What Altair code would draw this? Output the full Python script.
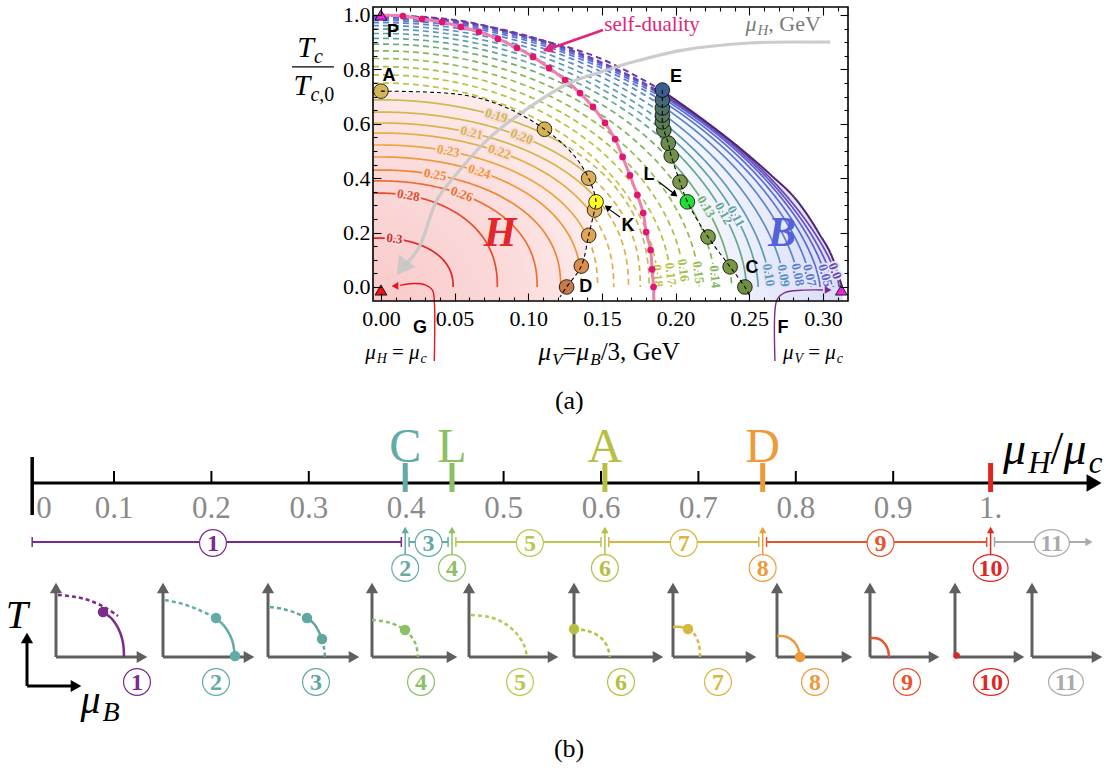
import altair as alt
import numpy as np
import pandas as pd

SERIF = "Liberation Serif"
SANS = "Liberation Sans"

# ======================================================================
#  Values
# ======================================================================
# ---- panel (a): contour levels, T/Tc0 intercept (mu_V = 0), mu_V intercept (T = 0)
H_LEVELS = ["0.3", "0.28", "0.26", "0.25", "0.24", "0.23", "0.22", "0.21", "0.20", "0.19"]
H_TOP = [0.18, 0.345, 0.39, 0.43, 0.478, 0.522, 0.566, 0.603, 0.643, 0.688]
H_RIGHT = [0.049, 0.079, 0.106, 0.122, 0.136, 0.147, 0.158, 0.168, 0.176, 0.182]
H_COLORS = ["#e3262b", "#e84a2e", "#ec6e32", "#ee8636", "#ef983a",
            "#eaa63f", "#e2ae44", "#dab348", "#d2b64b", "#cbb84e"]

O_LEVELS = ["0.18", "0.17", "0.16", "0.15", "0.14", "0.13", "0.12", "0.11",
            "0.10", "0.09", "0.08", "0.07", "0.06", "0.05", "0.04", "0.03"]
O_TOP = [0.75, 0.78, 0.81, 0.84, 0.868, 0.893, 0.914, 0.932,
         0.948, 0.961, 0.972, 0.98, 0.986, 0.991, 0.995, 0.998]
O_RIGHT = [0.188, 0.197, 0.206, 0.216, 0.227, 0.238, 0.248, 0.256,
           0.264, 0.274, 0.284, 0.292, 0.298, 0.303, 0.307, 0.311]
O_COLORS = ["#c5c03d", "#b6c33f", "#a4c145", "#92bd4d", "#80b75a", "#6fae6e", "#62a892", "#5da2a8",
            "#5b9ab8", "#5a8fc5", "#5a84cf", "#5a78d5", "#5b6cd7", "#5e60d3", "#6452c6", "#6b44b4"]

# outer boundary (dashed part up to E, solid part E -> F)
BD_X = [0.0, 0.05, 0.096, 0.149, 0.19]
BD_Y = [1.0, 0.982, 0.925, 0.84, 0.725]
BS_X = [0.19, 0.22, 0.246, 0.265, 0.282, 0.297, 0.307, 0.313]
BS_Y = [0.725, 0.61, 0.50, 0.41, 0.32, 0.20, 0.10, 0.0]

# first-order line A -> D and E -> C (black dashed)
AD_X = [0.0, 0.056, 0.085, 0.111, 0.13, 0.141, 0.146, 0.145, 0.141, 0.136, 0.126, 0.1215]
AD_Y = [0.72, 0.706, 0.66, 0.58, 0.49, 0.40, 0.313, 0.283, 0.19, 0.077, 0.0, -0.037]
EC_X = [0.191, 0.191, 0.191, 0.191, 0.191, 0.192, 0.195, 0.197, 0.203, 0.208, 0.222, 0.237, 0.247, 0.2505]
EC_Y = [0.724, 0.688, 0.658, 0.632, 0.607, 0.577, 0.529, 0.482, 0.386, 0.313, 0.184, 0.074, 0.0, -0.035]

# circles on the A-D line and the E-C line
ADC_X = [0.0, 0.111, 0.141, 0.146, 0.145, 0.141, 0.136, 0.126]
ADC_Y = [0.72, 0.58, 0.40, 0.313, 0.283, 0.19, 0.077, 0.0]
ADC_COL = ["#d3b556", "#d6b152", "#dbae5a", "#ffff22", "#e0ae5c", "#e0a552", "#db8d4a", "#c97a4a"]
ECC_X = EC_X[:13]
ECC_Y = EC_Y[:13]
ECC_COL = ["#3b5e8e", "#446876", "#4d7068", "#55785e", "#5b7f55", "#61854e", "#6a8c4b",
           "#72924a", "#7a9848", "#22dd33", "#7b9a45", "#779843", "#6f9040"]

# self-duality line dots
SD_X = [0.0149, 0.0278, 0.0414, 0.0543, 0.0665, 0.0794, 0.0923, 0.1032, 0.1141, 0.125, 0.1351,
        0.1439, 0.1521, 0.1589, 0.164, 0.169, 0.174, 0.178, 0.180, 0.183, 0.184, 0.185]
SD_Y = [0.996, 0.985, 0.974, 0.956, 0.938, 0.912, 0.879, 0.846, 0.805, 0.761, 0.713,
        0.662, 0.603, 0.544, 0.478, 0.41, 0.338, 0.272, 0.202, 0.136, 0.065, 0.0]

# grey mu_H arrow
GR_X = [0.305, 0.2505, 0.205, 0.171, 0.149, 0.128, 0.096, 0.072, 0.052, 0.038, 0.026, 0.0155]
GR_Y = [0.90, 0.897, 0.871, 0.827, 0.79, 0.75, 0.643, 0.54, 0.42, 0.32, 0.147, 0.075]

# contour labels: text, curve, position
CL_TEXT = ["0.19", "0.20", "0.21", "0.22", "0.23", "0.24", "0.25", "0.26", "0.28", "0.3",
           "0.18", "0.17", "0.16", "0.15", "0.14", "0.13", "0.12", "0.11",
           "0.10", "0.09", "0.08", "0.07", "0.05", "0.0"]
CL_LEVEL = CL_TEXT[:-1] + ["0.03"]
CL_X = [0.079, 0.097, 0.063, 0.081, 0.047, 0.069, 0.038, 0.056, 0.019, 0.009,
        0.187, 0.197, 0.206, 0.216, 0.227, 0.220, 0.231, 0.242,
        0.262, 0.273, 0.283, 0.2925, 0.301, 0.310]
CL_Y = [0.655, 0.585, 0.59, 0.515, 0.52, 0.45, 0.45, 0.36, 0.34, 0.18,
        0.04, 0.045, 0.06, 0.05, 0.04, 0.29, 0.27, 0.265,
        0.045, 0.045, 0.045, 0.045, 0.045, 0.06]

POINT_LABELS = ["P", "A", "E", "L", "K", "D", "C", "G", "F"]
POINT_LABEL_X = [0.0081, 0.0054, 0.2002, 0.182, 0.1677, 0.139, 0.2518, 0.0265, 0.2729]
POINT_LABEL_Y = [0.9375, 0.776, 0.772, 0.412, 0.224, 0.0, 0.07, -0.150, -0.150]

X_MAJOR = [0.0, 0.05, 0.10, 0.15, 0.20, 0.25, 0.30]
X_MINOR = [round(0.01 * k, 2) for k in range(1, 32) if k % 5 != 0]
Y_MAJOR = [0.0, 0.2, 0.4, 0.6, 0.8, 1.0]
Y_MINOR = [round(0.05 * k, 2) for k in range(1, 20) if k % 4 != 0]

# ---- panel (b): mu_H / mu_c number line
NL_TICKS = [0.1, 0.2, 0.3, 0.4, 0.5, 0.6, 0.7, 0.8, 0.9]
NL_LABELS = ["0.1", "0.2", "0.3", "0.4", "0.5", "0.6", "0.7", "0.8", "0.9", "1."]
NL_LABEL_V = [0.1, 0.2, 0.3, 0.4, 0.5, 0.6, 0.7, 0.8, 0.9, 1.0]
MARK_LETTERS = ["C", "L", "A", "D"]
MARK_V = [0.399, 0.447, 0.604, 0.766]
MARK_COLORS = ["#62aba6", "#8dc063", "#b6bf3f", "#ee9a3a"]
CRIT_V = 1.0
SEG_FROM = [0.016, 0.403, 0.451, 0.608, 0.770, 1.004]
SEG_TO = [0.395, 0.443, 0.600, 0.762, 0.996, 1.098]
SEG_MID = [0.2016, 0.423, 0.527, 0.685, 0.887, 1.063]
SEG_NUM = ["1", "3", "5", "7", "9", "11"]
SEG_COLORS = ["#7b2a8e", "#62aba6", "#b5c94f", "#d8b73e", "#e8542e", "#aaaaaa"]
PT_V = [0.399, 0.447, 0.604, 0.766, 1.0]
PT_NUM = ["2", "4", "6", "8", "10"]
PT_COLORS = ["#62aba6", "#8dc063", "#b6bf3f", "#ee9a3a", "#e1251f"]

# ---- panel (b): schematic phase diagrams (u right, v up, in px of the sketch)
ICON_NUM = ["1", "2", "3", "4", "5", "6", "7", "8", "9", "10", "11"]
ICON_COLORS = ["#7b2a8e", "#62aba6", "#5fa89f", "#8dc063", "#b5c94f", "#b6bf3f",
               "#d8b73e", "#ee9a3a", "#e8542e", "#e1251f", "#aaaaaa"]
ICON_CURVES = [
    [("dashed", [(2, 62), (20, 60), (35, 56), (50, 49), (62, 41)]),
     ("solid", [(47, 45), (56, 38), (63, 27), (67, 14), (68, 0)])],
    [("dashed", [(2, 57), (20, 53), (36, 47), (53, 39)]),
     ("solid", [(53, 39), (62, 30), (69, 17), (72, 1)])],
    [("dashed", [(2, 50), (15, 48), (28, 44), (39, 39)]),
     ("solid", [(39, 39), (47, 32), (54, 18)]),
     ("dashed", [(54, 18), (56, 9), (57, 0)])],
    [("dashed", [(0, 37), (15, 35), (28, 30), (38, 22), (44, 12), (46, 0)])],
    [("dashed", [(2, 42), (20, 40), (35, 34), (47, 24), (55, 12), (58, 0)])],
    [("dashed", [(0, 28), (14, 26), (26, 20), (33, 11), (36, 0)])],
    [("solid", [(0, 30), (8, 30), (15, 28)]),
     ("dashed", [(15, 28), (22, 22), (26, 12), (27, 0)])],
    [("solid", [(0, 21), (10, 20), (18, 14), (22, 6), (23, 0)])],
    [("solid", [(0, 19), (9, 18), (15, 13), (18, 7), (19, 0)])],
    [("solid", [(0, 4), (3, 3), (4, 0)])],
    [],
]
ICON_DOTS = [[(47, 45)], [(53, 39), (72, 1)], [(39, 39), (54, 18)], [(33, 27)], [],
             [(0, 28)], [(15, 28)], [(23, 0)], [], [(1, 1)], []]

# ---- layout of panel (b) (pixels)
ICON_X0 = [56, 163, 268, 372, 469, 574, 673, 777, 870, 955, 1032]
ICON_LEN = [92, 92, 92, 86, 90, 90, 84, 76, 70, 70, 71]
ICON_LAB_DX = [81, 53, 48, 49, 51, 47, 45, 38, 37, 36, 34]
ICON_BASE, ICON_TOP, ICON_LAB_Y = 657, 582, 682
LINE_Y, SEG_Y, BELOW_Y = 483, 542, 568

# ======================================================================
#  scales
# ======================================================================
XA_DOM, XA_RNG = [-0.0054, 0.317], [373, 848]
YA_DOM, YA_RNG = [-0.0515, 1.0294], [301, 7]
XB_DOM, XB_RNG = [0.0, 1.0], [16.6, 990.6]
PPX = (XA_RNG[1] - XA_RNG[0]) / (XA_DOM[1] - XA_DOM[0])
PPY = (YA_RNG[0] - YA_RNG[1]) / (YA_DOM[1] - YA_DOM[0])


def sc(dom, rng):
    return alt.Scale(domain=dom, range=rng, nice=False, zero=False)


def ea(xf="x", yf="y"):
    return dict(x=alt.X(f"{xf}:Q", scale=sc(XA_DOM, XA_RNG), axis=None),
                y=alt.Y(f"{yf}:Q", scale=sc(YA_DOM, YA_RNG), axis=None))


def ep(xf="x", yf="y"):
    return dict(x=alt.X(f"{xf}:Q", scale=sc([0, 1113], [0, 1113]), axis=None),
                y=alt.Y(f"{yf}:Q", scale=sc([0, 771], [0, 771]), axis=None))


def xb(f="v"):
    return alt.X(f"{f}:Q", scale=sc(XB_DOM, XB_RNG), axis=None)


DASH_A = alt.StrokeDash("dash:N", scale=alt.Scale(domain=["solid", "dashed"], range=[[1, 0], [6, 4]]), legend=None)
DASH_P = alt.StrokeDash("dash:N", scale=alt.Scale(domain=["solid", "dashed"], range=[[1, 0], [4, 3]]), legend=None)

EM = {"μ": 0.55, "T": 0.61, "c": 0.44, ",": 0.25, ".": 0.25, " ": 0.25, "=": 0.56, "/": 0.28,
      "G": 0.72, "e": 0.44, "V": 0.72, "H": 0.72, "B": 0.67, "(": 0.33, ")": 0.33}
EM_IT = {"T": 0.56, "V": 0.61, "B": 0.61, "H": 0.72, "c": 0.44, "μ": 0.55}


def tw(t, s, it):
    return s * sum((EM_IT[ch] if (it and ch in EM_IT) else EM.get(ch, 0.5)) for ch in t)


def rich(parts, x, y, sx, sy, color, anchor="center"):
    """parts: (text, size, italic, dy); leading/trailing blanks become gaps."""
    ws = [tw(t, s, it) for t, s, it, _ in parts]
    cur = -sum(ws) / 2 if anchor == "center" else 0.0
    out = []
    for (t, s, it, dy), w in zip(parts, ws):
        lead = len(t) - len(t.lstrip(" "))
        core = t.strip(" ")
        if core:
            out.append(dict(x=x + (cur + lead * 0.25 * s) * sx, y=y + dy * sy, t=core, s=s, c=color, it=it))
        cur += w
    return out


def text_layers(rows, enc):
    df = pd.DataFrame(rows)
    out = []
    for it in (False, True):
        sub = df[df["it"] == it].drop(columns="it")
        if len(sub) == 0:
            continue
        out.append(alt.Chart(sub).mark_text(
            font=SERIF, fontStyle="italic" if it else "normal", align="left", baseline="alphabetic"
        ).encode(**enc, text="t:N", size=alt.Size("s:Q", scale=None), color=alt.Color("c:N", scale=None)))
    return out


def xy_df(xs, ys, **extra):
    d = pd.DataFrame({"x": xs, "y": ys, "i": list(range(len(xs)))})
    for k, v in extra.items():
        d[k] = v
    return d


# ======================================================================
#  panel (a)
# ======================================================================
A = []
x0 = XA_DOM[0]

# background regions
blue_grad = alt.LinearGradient(gradient="linear", x1=0, x2=1, y1=0, y2=0, stops=[
    alt.GradientStop(offset=0.55, color="#ffffff"), alt.GradientStop(offset=0.8, color="#eceefb"),
    alt.GradientStop(offset=1.0, color="#d8dcf7")])
blue_df = pd.DataFrame({"y": [YA_DOM[0]] + BS_Y[::-1], "x": [0.3135] + BS_X[::-1]})
blue_df["x0"] = x0
A.append(alt.Chart(blue_df).mark_area(orient="horizontal", interpolate="monotone", color=blue_grad)
         .encode(**ea(), x2=alt.X2("x0:Q")))
white_df = pd.DataFrame({"y": [YA_DOM[0]] + EC_Y[::-1], "x": [0.2515] + EC_X[::-1]})
white_df["x0"] = x0
A.append(alt.Chart(white_df).mark_area(orient="horizontal", interpolate="monotone", color="white")
         .encode(**ea(), x2=alt.X2("x0:Q")))
pink_grad = alt.RadialGradient(gradient="radial", x1=0, y1=1, r1=0, x2=0, y2=1, r2=1.05, stops=[
    alt.GradientStop(offset=0.0, color="#f9c9c9"), alt.GradientStop(offset=0.6, color="#fbdada"),
    alt.GradientStop(offset=1.0, color="#fdecec")])
pink_df = pd.DataFrame({"y": [YA_DOM[0]] + AD_Y[::-1], "x": [0.1195] + AD_X[::-1]})
pink_df["x0"] = x0
A.append(alt.Chart(pink_df).mark_area(orient="horizontal", interpolate="monotone", color=pink_grad)
         .encode(**ea(), x2=alt.X2("x0:Q")))

# contours
AD_YA, AD_XA = np.array(AD_Y[::-1]), np.array(AD_X[::-1])
EC_YA, EC_XA = np.array(EC_Y[::-1]), np.array(EC_X[::-1])


def arc(a, b, q, n=160):
    t = np.linspace(0.0, np.pi / 2, n)
    x = np.concatenate([[x0], a * np.sin(t)])
    y = np.concatenate([[b], b * np.cos(t) ** (2.0 / q)])
    return x, y


crow = []
curves = {}
colors_by_level = {}


def add_curve(level, x, y, solid, color):
    curves[level] = (x, y)
    colors_by_level[level] = color
    k, start, n = 0, 0, len(x)
    for i in range(1, n + 1):
        if i == n or solid[i] != solid[start]:
            for j in range(start, min(i + 1, n)):
                crow.append(dict(x=float(x[j]), y=float(y[j]), seg=f"{level}_{k}", i=j, c=color,
                                 dash="solid" if solid[start] else "dashed"))
            k += 1
            start = i


for lev, b, a, col in zip(H_LEVELS, H_TOP, H_RIGHT, H_COLORS):
    x, y = arc(a, b, 2.3)
    add_curve(lev, x, y, (y <= 0.72) & (x <= np.interp(y, AD_YA, AD_XA) + 1e-9), col)
for lev, b, a, col, q in zip(O_LEVELS, O_TOP, O_RIGHT, O_COLORS, np.linspace(1.95, 1.40, len(O_LEVELS))):
    x, y = arc(a, b, q)
    add_curve(lev, x, y, (y <= 0.724) & (x >= np.interp(y, EC_YA, EC_XA) - 1e-9), col)

A.append(alt.Chart(pd.DataFrame(crow)).mark_line(strokeWidth=1.7).encode(
    **ea(), detail="seg:N", order="i:Q", color=alt.Color("c:N", scale=None), strokeDash=DASH_A))

# outer boundary
bd = pd.concat([xy_df(BD_X, BD_Y, seg="b0", dash="dashed", c="#6b3a9a"),
                xy_df(BS_X, BS_Y, seg="b1", dash="solid", c="#4e2570")])
A.append(alt.Chart(bd).mark_line(strokeWidth=2, interpolate="monotone").encode(
    **ea(), detail="seg:N", order="i:Q", color=alt.Color("c:N", scale=None), strokeDash=DASH_A))

# contour labels (placed on their curve, rotated along it)
lab_rows = []
for t, lev, lx, ly in zip(CL_TEXT, CL_LEVEL, CL_X, CL_Y):
    cx, cy = curves[lev]
    d = ((cx - lx) * PPX) ** 2 + ((cy - ly) * PPY) ** 2
    j = int(np.clip(np.argmin(d), 1, len(cx) - 2))
    ang = np.degrees(np.arctan2(-(cy[j + 1] - cy[j - 1]) * PPY, (cx[j + 1] - cx[j - 1]) * PPX))
    if ang > 90:
        ang -= 180
    if ang <= -90:
        ang += 180
    if lev in H_LEVELS:
        halo = "#fbdcdc"
    elif lev in ("0.18", "0.17", "0.16", "0.15", "0.14"):
        halo = "#ffffff"
    elif lev in ("0.13", "0.12", "0.11"):
        halo = "#f2f3fd"
    else:
        halo = "#e3e6f9"
    lab_rows.append(dict(x=float(cx[j]), y=float(cy[j]), t=t, ang=float(ang % 360),
                         c=colors_by_level[lev], h=halo))
lab_df = pd.DataFrame(lab_rows)
A.append(alt.Chart(lab_df).mark_text(font=SERIF, fontWeight="bold", fontSize=13, strokeWidth=4,
                                     strokeJoin="round", baseline="middle").encode(
    **ea(), text="t:N", angle=alt.Angle("ang:Q", scale=None),
    color=alt.Color("h:N", scale=None), stroke=alt.Stroke("h:N", scale=None)))
A.append(alt.Chart(lab_df).mark_text(font=SERIF, fontWeight="bold", fontSize=13, baseline="middle").encode(
    **ea(), text="t:N", angle=alt.Angle("ang:Q", scale=None), color=alt.Color("c:N", scale=None)))

# self-duality line
sd_line = xy_df([0.0] + SD_X + [0.1852], [1.0] + SD_Y + [-0.05])
A.append(alt.Chart(sd_line).mark_line(color="#ee7fb0", strokeWidth=3, interpolate="catmull-rom")
         .encode(**ea(), order="i:Q"))
A.append(alt.Chart(xy_df(SD_X, SD_Y)).mark_circle(color="#e3166f", size=45, opacity=1).encode(**ea()))

# grey mu_H arrow
A.append(alt.Chart(xy_df(GR_X, GR_Y)).mark_line(color="#c6c6c6", strokeWidth=3.2, opacity=0.9,
                                                 interpolate="catmull-rom")
         .encode(**ea(), order="i:Q"))
A.append(alt.Chart(pd.DataFrame({"x": [0.0143], "y": [0.07], "ang": [216.6]}))
         .mark_point(shape="triangle-up", filled=True, size=420, color="#c6c6c6", opacity=0.9)
         .encode(**ea(), angle=alt.Angle("ang:Q", scale=None)))

# circles on the transition lines (lower ones first)
circ = pd.concat([xy_df(ADC_X[::-1], ADC_Y[::-1], f=ADC_COL[::-1]),
                  xy_df(ECC_X[::-1], ECC_Y[::-1], f=ECC_COL[::-1])])
A.append(alt.Chart(circ).mark_circle(size=215, opacity=1, stroke="black", strokeWidth=0.8)
         .encode(**ea(), fill=alt.Fill("f:N", scale=None)))
for xs, ys in ((AD_X, AD_Y), (EC_X, EC_Y)):
    A.append(alt.Chart(xy_df(xs, ys)).mark_line(color="black", strokeWidth=1.1, strokeDash=[4, 3],
                                                interpolate="catmull-rom").encode(**ea(), order="i:Q"))

# end-point triangles P, G, F
tri = pd.DataFrame({"x": [0.0, 0.0, 0.3125], "y": [1.0, -0.011, -0.011],
                    "f": ["#e42ad8", "#e8141e", "#e42ad8"]})
A.append(alt.Chart(tri).mark_point(shape="triangle-up", filled=True, size=140, opacity=1,
                                   stroke="black", strokeWidth=0.8)
         .encode(**ea(), fill=alt.Fill("f:N", scale=None)))

# annotation arrows
arrows = [
    ([0.1507, 0.1140], [0.9449, 0.875], "#e2257a", 2.6, (0.1131, 0.874, 249.6, 120)),
    ([0.1887, 0.1990], [0.386, 0.343], "black", 1.2, (0.1995, 0.340, 127.8, 55)),
    ([0.1622, 0.1540], [0.257, 0.289], "black", 1.2, (0.1536, 0.2926, 306.9, 55)),
]
heads = []
for xs, ys, col, w, h in arrows:
    A.append(alt.Chart(xy_df(xs, ys)).mark_line(color=col, strokeWidth=w).encode(**ea(), order="i:Q"))
    heads.append(dict(x=h[0], y=h[1], ang=h[2], s=h[3], c=col))
g_path = xy_df([0.0362, 0.0362, 0.0350, 0.030, 0.022, 0.013], [-0.272, -0.05, -0.012, 0.008, 0.013, 0.006])
f_path = xy_df([0.2674, 0.2674, 0.2690, 0.2745, 0.285, 0.300], [-0.272, -0.09, -0.045, -0.02, -0.012, -0.011])
A.append(alt.Chart(g_path).mark_line(color="#e8141e", strokeWidth=1.4, interpolate="catmull-rom")
         .encode(**ea(), order="i:Q"))
A.append(alt.Chart(f_path).mark_line(color="#7b2a8e", strokeWidth=1.4, interpolate="catmull-rom")
         .encode(**ea(), order="i:Q"))
heads.append(dict(x=0.0095, y=0.004, ang=270.0, s=60, c="#e8141e"))
heads.append(dict(x=0.3035, y=-0.011, ang=90.0, s=60, c="#7b2a8e"))
A.append(alt.Chart(pd.DataFrame(heads)).mark_point(shape="triangle-up", filled=True, opacity=1)
         .encode(**ea(), angle=alt.Angle("ang:Q", scale=None), size=alt.Size("s:Q", scale=None),
                 color=alt.Color("c:N", scale=None)))

# frame
A.append(alt.Chart(pd.DataFrame({"x": [XA_DOM[0]], "x2": [XA_DOM[1]], "y": [YA_DOM[0]], "y2": [YA_DOM[1]]}))
         .mark_rect(fillOpacity=0, stroke="black", strokeWidth=1.6)
         .encode(**ea(), x2=alt.X2("x2:Q"), y2=alt.Y2("y2:Q")))

# letters
A.append(alt.Chart(pd.DataFrame({"x": POINT_LABEL_X, "y": POINT_LABEL_Y, "t": POINT_LABELS}))
         .mark_text(font=SANS, fontWeight="bold", fontSize=18, baseline="middle", color="black")
         .encode(**ea(), text="t:N"))
A.append(alt.Chart(pd.DataFrame({"x": [0.0808, 0.2722], "y": [0.20, 0.197], "t": ["H", "B"],
                                 "c": ["#e3262b", "#5561d6"]}))
         .mark_text(font=SERIF, fontStyle="italic", fontWeight="bold", fontSize=42, baseline="middle")
         .encode(**ea(), text="t:N", color=alt.Color("c:N", scale=None)))
A.append(alt.Chart(pd.DataFrame({"x": [0.184], "y": [0.941], "t": ["self-duality"]}))
         .mark_text(font=SERIF, fontSize=21, color="#e2257a", baseline="alphabetic")
         .encode(**ea(), text="t:N"))
A.append(alt.Chart(pd.DataFrame({"x": [-0.0604], "x2": [-0.0319], "y": [0.809]}))
         .mark_rule(color="black", strokeWidth=1.3).encode(**ea(), x2=alt.X2("x2:Q")))

sxA, syA = 1.0 / PPX, -1.0 / PPY
rich_a = []
rich_a += rich([("T", 30, True, 0), ("c", 20, True, 6)], -0.0482, 0.8456, sxA, syA, "black")
rich_a += rich([("T", 30, True, 0), ("c", 20, True, 6), (",0", 20, False, 6)], -0.0455, 0.706, sxA, syA, "black")
rich_a += rich([("μ", 25, True, 0), ("V", 17, True, 5), ("=", 25, False, 0), ("μ", 25, True, 0),
                ("B", 17, True, 5), ("/3,", 25, False, 0), (" GeV", 25, False, 0)],
               0.1548, -0.268, sxA, syA, "black")
rich_a += rich([("μ", 21, True, 0), ("H", 14, True, 4), (" = ", 21, False, 0), ("μ", 21, True, 0),
                ("c", 14, True, 4)], 0.0102, -0.264, sxA, syA, "black")
rich_a += rich([("μ", 21, True, 0), ("V", 14, True, 4), (" = ", 21, False, 0), ("μ", 21, True, 0),
                ("c", 14, True, 4)], 0.2932, -0.264, sxA, syA, "black")
rich_a += rich([("μ", 22, True, 0), ("H", 15, True, 4), (",", 22, False, 0), (" GeV", 22, False, 0)],
               0.2729, 0.941, sxA, syA, "#7a7a7a")
A += text_layers(rich_a, ea())

group_a = alt.layer(*A)

# ---- frame ticks (library axes, placed on the frame)
AXC = dict(grid=False, domain=False, title=None, tickColor="black", tickWidth=1.1, labelFont=SERIF,
           labelColor="black", labelFlush=False, labelOverlap=False, zindex=1)


def axis_layer(xaxis, yaxis):
    return alt.Chart(pd.DataFrame({"x": [0.1], "y": [0.5]})).mark_point(opacity=0).encode(
        x=alt.X("x:Q", scale=sc(XA_DOM, XA_RNG), axis=xaxis),
        y=alt.Y("y:Q", scale=sc(YA_DOM, YA_RNG), axis=yaxis))


ax_layers = [
    axis_layer(alt.Axis(orient="bottom", offset=293 - 771, values=X_MAJOR, format=".2f", tickSize=8,
                        labelFontSize=22, labelPadding=7, **AXC),
               alt.Axis(orient="left", offset=-381, values=Y_MAJOR, format=".1f", tickSize=8,
                        labelFontSize=22, labelPadding=3, **AXC)),
    axis_layer(alt.Axis(orient="bottom", offset=297 - 771, values=X_MINOR, tickSize=4, labels=False, **AXC),
               alt.Axis(orient="left", offset=-377, values=Y_MINOR, tickSize=4, labels=False, **AXC)),
    axis_layer(alt.Axis(orient="top", offset=-15, values=X_MAJOR, tickSize=8, labels=False, **AXC),
               alt.Axis(orient="right", offset=840 - 1113, values=Y_MAJOR, tickSize=8, labels=False, **AXC)),
    axis_layer(alt.Axis(orient="top", offset=-11, values=X_MINOR, tickSize=4, labels=False, **AXC),
               alt.Axis(orient="right", offset=844 - 1113, values=Y_MINOR, tickSize=4, labels=False, **AXC)),
]

# ======================================================================
#  panel (b): number line
# ======================================================================
B = []
ELL = "M-1.3,0A1.3,1,0,1,1,1.3,0A1.3,1,0,1,1,-1.3,0Z"
B.append(alt.Chart(pd.DataFrame({"v": [0.016], "v2": [1.10]})).mark_rule(color="black", strokeWidth=3)
         .encode(x=xb(), x2=alt.X2("v2:Q"), y=alt.value(LINE_Y)))
B.append(alt.Chart(pd.DataFrame({"v": [1.1062]})).mark_point(shape="triangle-right", filled=True, size=300,
                                                             color="black", opacity=1)
         .encode(x=xb(), y=alt.value(LINE_Y)))
B.append(alt.Chart(pd.DataFrame({"v": [0.016]})).mark_rule(color="black", strokeWidth=3.5)
         .encode(x=xb(), y=alt.value(457), y2=alt.value(515)))
B.append(alt.Chart(pd.DataFrame({"v": NL_TICKS})).mark_rule(color="black", strokeWidth=2)
         .encode(x=xb(), y=alt.value(471), y2=alt.value(LINE_Y)))
B.append(alt.Chart(pd.DataFrame({"v": NL_LABEL_V, "t": NL_LABELS})).mark_text(
    font=SERIF, fontSize=31, color="#8a8a8a", baseline="alphabetic").encode(x=xb(), y=alt.value(518), text="t:N"))
B.append(alt.Chart(pd.DataFrame({"v": [0.016], "t": ["0"]})).mark_text(
    font=SERIF, fontSize=31, color="#8a8a8a", baseline="alphabetic", align="left", dx=4)
    .encode(x=xb(), y=alt.value(518), text="t:N"))
bars = pd.DataFrame({"v": MARK_V + [CRIT_V], "c": MARK_COLORS + ["#e1251f"]})
B.append(alt.Chart(bars).mark_rule(strokeWidth=5).encode(x=xb(), y=alt.value(463), y2=alt.value(492),
                                                         color=alt.Color("c:N", scale=None)))
B.append(alt.Chart(pd.DataFrame({"v": MARK_V, "t": MARK_LETTERS, "c": MARK_COLORS})).mark_text(
    font=SERIF, fontSize=48, baseline="alphabetic").encode(x=xb(), y=alt.value(462), text="t:N",
                                                           color=alt.Color("c:N", scale=None)))
seg_df = pd.DataFrame({"v": SEG_FROM, "v2": SEG_TO, "c": SEG_COLORS})
B.append(alt.Chart(seg_df).mark_rule(strokeWidth=1.8).encode(x=xb(), x2=alt.X2("v2:Q"), y=alt.value(SEG_Y),
                                                              color=alt.Color("c:N", scale=None)))
caps = pd.DataFrame({"v": SEG_FROM + SEG_TO[:-1], "c": SEG_COLORS + SEG_COLORS[:-1]})
B.append(alt.Chart(caps).mark_rule(strokeWidth=1.5).encode(x=xb(), y=alt.value(SEG_Y - 5), y2=alt.value(SEG_Y + 5),
                                                           color=alt.Color("c:N", scale=None)))
B.append(alt.Chart(pd.DataFrame({"v": [SEG_TO[-1] + 0.003]})).mark_point(
    shape="triangle-right", filled=True, size=70, color="#aaaaaa", opacity=1).encode(x=xb(), y=alt.value(SEG_Y)))
pts = pd.DataFrame({"v": PT_V, "c": PT_COLORS})
B.append(alt.Chart(pts).mark_rule(strokeWidth=1.5).encode(x=xb(), y=alt.value(BELOW_Y - 14), y2=alt.value(533),
                                                          color=alt.Color("c:N", scale=None)))
B.append(alt.Chart(pts).mark_point(shape="triangle-up", filled=True, size=55, opacity=1)
         .encode(x=xb(), y=alt.value(530), color=alt.Color("c:N", scale=None)))
circ_on = pd.DataFrame({"v": SEG_MID, "t": SEG_NUM, "c": SEG_COLORS,
                        "shp": ["circle"] * 5 + [ELL]})
circ_below = pd.DataFrame({"v": PT_V, "t": PT_NUM, "c": PT_COLORS, "shp": ["circle"] * 4 + [ELL]})
for d, yy in ((circ_on, SEG_Y + 1), (circ_below, BELOW_Y)):
    B.append(alt.Chart(d).mark_point(filled=True, fill="white", size=720, strokeWidth=1.2, opacity=1)
             .encode(x=xb(), y=alt.value(yy), stroke=alt.Stroke("c:N", scale=None),
                     shape=alt.Shape("shp:N", scale=None)))
    B.append(alt.Chart(d).mark_text(font=SERIF, fontWeight="bold", fontSize=24, baseline="middle", dy=1)
             .encode(x=xb(), y=alt.value(yy), text="t:N", color=alt.Color("c:N", scale=None)))
group_b = alt.layer(*B)

# ======================================================================
#  panel (b): sketches, legend and captions (pixel layout)
# ======================================================================
P = []
ax_rows, ax_heads, cur_rows, dot_rows, lab_rows2 = [], [], [], [], []
for k, (ox, ln) in enumerate(zip(ICON_X0, ICON_LEN)):
    ax_rows.append(dict(x=ox, y=ICON_BASE, x2=ox, y2=ICON_TOP + 9))
    ax_rows.append(dict(x=ox, y=ICON_BASE, x2=ox + ln - 9, y2=ICON_BASE))
    ax_heads.append(dict(x=ox, y=ICON_TOP + 6, shp="triangle-up"))
    ax_heads.append(dict(x=ox + ln - 6, y=ICON_BASE, shp="triangle-right"))
    for s, (style, ptsl) in enumerate(ICON_CURVES[k]):
        for i, (u, v) in enumerate(ptsl):
            cur_rows.append(dict(x=ox + u, y=ICON_BASE - v, seg=f"{k}_{s}", i=i, c=ICON_COLORS[k], dash=style))
    for (u, v) in ICON_DOTS[k]:
        dot_rows.append(dict(x=ox + u, y=ICON_BASE - v, c=ICON_COLORS[k], s=30 if k == 9 else 110))
    lab_rows2.append(dict(x=ox + ICON_LAB_DX[k], y=ICON_LAB_Y, t=ICON_NUM[k], c=ICON_COLORS[k],
                          shp=ELL if k >= 9 else "circle"))
# legend arrows
leg_rows = [dict(x=27, y=686, x2=27, y2=642), dict(x=27, y=686, x2=72, y2=686)]
ax_heads_leg = [dict(x=27, y=638, shp="triangle-up"), dict(x=76, y=686, shp="triangle-right")]

P.append(alt.Chart(pd.DataFrame(ax_rows)).mark_rule(color="#5f5f5f", strokeWidth=3)
         .encode(**ep(), x2=alt.X2("x2:Q"), y2=alt.Y2("y2:Q")))
P.append(alt.Chart(pd.DataFrame(ax_heads)).mark_point(filled=True, size=150, color="#5f5f5f", opacity=1)
         .encode(**ep(), shape=alt.Shape("shp:N", scale=None)))
P.append(alt.Chart(pd.DataFrame(leg_rows)).mark_rule(color="black", strokeWidth=3)
         .encode(**ep(), x2=alt.X2("x2:Q"), y2=alt.Y2("y2:Q")))
P.append(alt.Chart(pd.DataFrame(ax_heads_leg)).mark_point(filled=True, size=150, color="black", opacity=1)
         .encode(**ep(), shape=alt.Shape("shp:N", scale=None)))
P.append(alt.Chart(pd.DataFrame(cur_rows)).mark_line(strokeWidth=2.5, interpolate="catmull-rom").encode(
    **ep(), detail="seg:N", order="i:Q", color=alt.Color("c:N", scale=None), strokeDash=DASH_P))
P.append(alt.Chart(pd.DataFrame(dot_rows)).mark_circle(opacity=1).encode(
    **ep(), color=alt.Color("c:N", scale=None), size=alt.Size("s:Q", scale=None)))
lab2 = pd.DataFrame(lab_rows2)
P.append(alt.Chart(lab2).mark_point(filled=True, fill="white", size=720, strokeWidth=1.2, opacity=1)
         .encode(**ep(), stroke=alt.Stroke("c:N", scale=None), shape=alt.Shape("shp:N", scale=None)))
P.append(alt.Chart(lab2).mark_text(font=SERIF, fontWeight="bold", fontSize=24, baseline="middle", dy=1)
         .encode(**ep(), text="t:N", color=alt.Color("c:N", scale=None)))

rich_p = []
rich_p += rich([("T", 40, True, 0)], 17, 628, 1, 1, "black")
rich_p += rich([("μ", 40, True, 0), ("B", 28, True, 8)], 100, 713, 1, 1, "black")
rich_p += rich([("μ", 46, True, 0), ("H", 31, True, 9), ("/", 46, False, 0), ("μ", 46, True, 0),
                ("c", 31, True, 9)], 1003, 464, 1, 1, "black", anchor="left")
rich_p += rich([("(a)", 26, False, 0)], 570, 409, 1, 1, "black")
rich_p += rich([("(b)", 26, False, 0)], 569, 757, 1, 1, "black")
P += text_layers(rich_p, ep())
group_p = alt.layer(*P)

chart = alt.layer(group_a, *ax_layers, group_b, group_p).resolve_scale(
    x="independent", y="independent", strokeDash="independent"
).properties(
    width=1113, height=771, padding=0, autosize=alt.AutoSizeParams(type="none"), background="white"
).configure_view(stroke=None)

chart.save("out.html", embed_options={"renderer": "svg", "actions": False})
